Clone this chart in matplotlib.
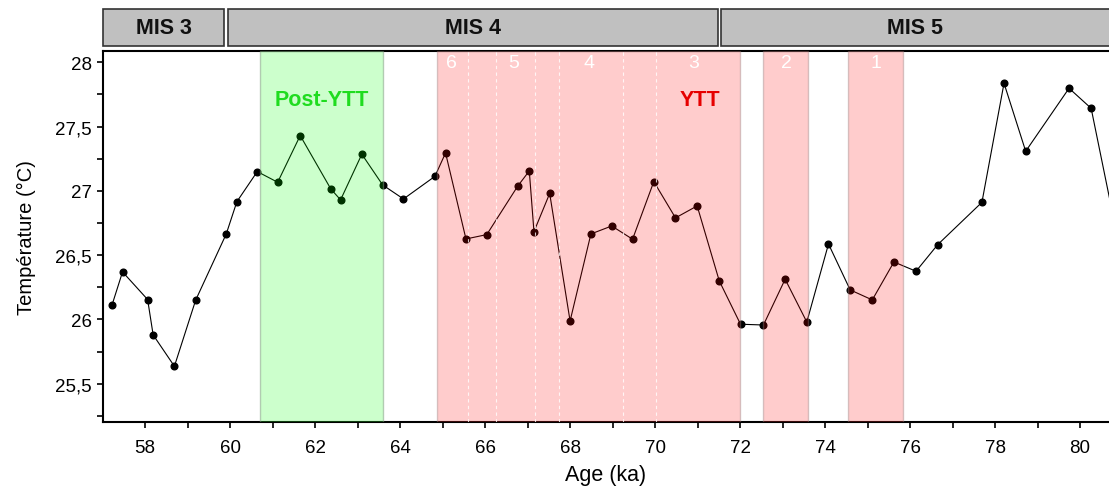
import matplotlib
matplotlib.use('Agg')
import matplotlib.pyplot as plt
from matplotlib.patches import Rectangle
from matplotlib.ticker import MultipleLocator, FixedLocator
import matplotlib.transforms as mtransforms

plt.rcParams['font.family'] = ['Liberation Sans', 'DejaVu Sans']

# données
age = [57.22, 57.47, 58.06, 58.19, 58.69, 59.19, 59.91, 60.16, 60.64, 61.12,
       61.65, 62.37, 62.60, 63.10, 63.59, 64.08, 64.82, 65.07, 65.55, 66.04,
       66.77, 67.04, 67.15, 67.52, 68.00, 68.49, 68.98, 69.47, 69.97, 70.48,
       70.99, 71.51, 72.01, 72.55, 73.06, 73.57, 74.08, 74.59, 75.11, 75.62,
       76.14, 76.65, 77.69, 78.21, 78.72, 79.74, 80.26, 80.78]
temp = [26.11, 26.37, 26.155, 25.88, 25.636, 26.15, 26.665, 26.916, 27.15, 27.067,
        27.43, 27.015, 26.93, 27.285, 27.046, 26.937, 27.113, 27.295, 26.626, 26.66,
        27.038, 27.155, 26.683, 26.98, 25.988, 26.665, 26.727, 26.624, 27.072, 26.79,
        26.883, 26.30, 25.963, 25.957, 26.313, 25.98, 26.587, 26.23, 26.152, 26.447,
        26.375, 26.582, 26.911, 27.837, 27.308, 27.798, 27.642, 26.80]

mis_labels = ['MIS 3', 'MIS 4', 'MIS 5']
mis_start = [57.01, 59.95, 71.56]
mis_end = [59.86, 71.48, 81.5]

post_ytt = (60.7, 63.6)
red_bands = [(64.88, 72.0), (72.55, 73.6), (74.53, 75.83)]
sub_lines = [65.59, 66.26, 67.18, 67.75, 69.24, 70.02]
sub_labels = ['6', '5', '4', '3', '2', '1']
sub_label_x = [65.2, 66.67, 68.45, 70.9, 73.08, 75.19]

yticks = [25.5, 26, 26.5, 27, 27.5, 28]
ytick_labels = ['25,5', '26', '26,5', '27', '27,5', '28']
xticks = [58, 60, 62, 64, 66, 68, 70, 72, 74, 76, 78, 80]

fig = plt.figure(figsize=(11.09, 4.89), dpi=100)
ax = fig.add_axes([103 / 1109, 1 - 422.7 / 489, 1 - 103 / 1109, (422.7 - 51.7) / 489])

ax.plot(age, temp, color='black', lw=0.8, marker='o', ms=4.8, zorder=2)

ax.axvspan(*post_ytt, facecolor=(0, 1, 0, 0.2), edgecolor=(0.5, 0.6, 0.5, 0.5), lw=1, zorder=3)
for a, b in red_bands:
    ax.axvspan(a, b, facecolor=(1, 0, 0, 0.2), edgecolor=(0.6, 0.5, 0.5, 0.4), lw=1, zorder=3)
for x in sub_lines:
    ax.axvline(x, color='white', lw=0.8, ls=(0, (3, 3)), alpha=0.8, zorder=4)
for lab, x in zip(sub_labels, sub_label_x):
    ax.text(x, 28.0, lab, color='white', fontsize=14, ha='center', va='center', zorder=5)

ax.text(62.16, 27.71, 'Post-YTT', color='#1fdc1f', fontsize=15.5, fontweight='bold',
        ha='center', va='center', zorder=5)
ax.text(71.06, 27.71, 'YTT', color='#e60000', fontsize=15.5, fontweight='bold',
        ha='center', va='center', zorder=5)

# bandeau MIS
trans = mtransforms.blended_transform_factory(ax.transData, ax.transAxes)
y0, y1 = (422.7 - 47) / 371, (422.7 - 10) / 371
for lab, a, b in zip(mis_labels, mis_start, mis_end):
    ax.add_patch(Rectangle((a, y0), b - a, y1 - y0, transform=trans, clip_on=False,
                           facecolor='#c0c0c0', edgecolor='#333333', lw=1.2))
    xc = (a + min(b, 80.68)) / 2
    ax.text(xc, (y0 + y1) / 2, lab, transform=trans, fontsize=15.5, fontweight='bold',
            ha='center', va='center', color='#111111')

ax.set_xlim(57.01, 80.68)
ax.set_ylim(25.205, 28.09)
ax.xaxis.set_major_locator(FixedLocator(xticks))
ax.xaxis.set_minor_locator(MultipleLocator(1))
ax.yaxis.set_major_locator(FixedLocator(yticks))
ax.set_yticklabels(ytick_labels)
ax.yaxis.set_minor_locator(MultipleLocator(0.25))
ax.tick_params(which='both', direction='out', length=4.5, width=1.2, labelsize=13.5)
ax.tick_params(axis='x', pad=8)

for s in ['left', 'bottom', 'top']:
    ax.spines[s].set_linewidth(1.5)
ax.spines['right'].set_visible(False)

ax.set_xlabel('Age (ka)', fontsize=15.5, labelpad=6)
ax.set_ylabel('Température (°C)', fontsize=14.5, labelpad=14)

fig.savefig('out.png', dpi=100)
